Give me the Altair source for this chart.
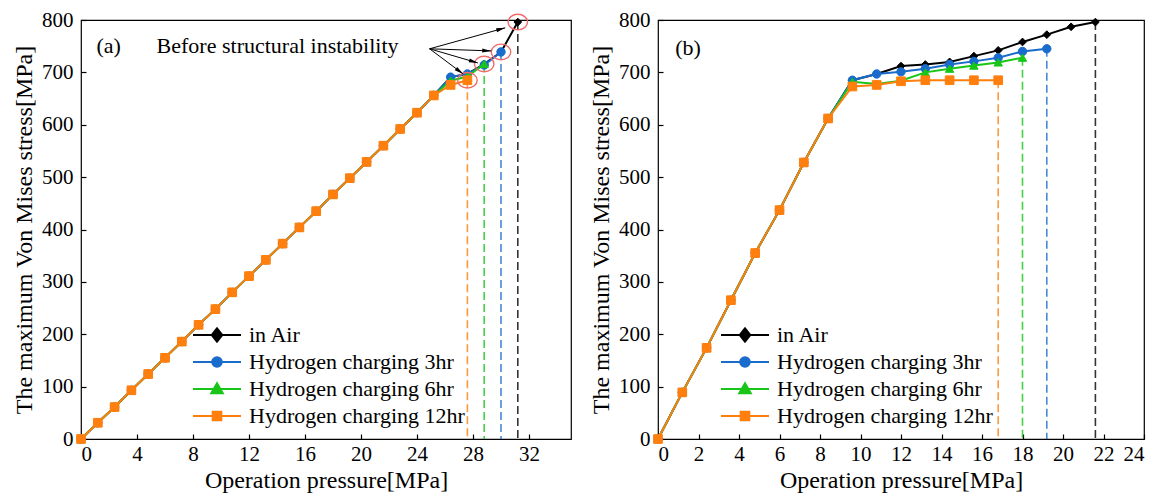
import math
import altair as alt
import pandas as pd

FONT = "Liberation Serif"

SERIES = ["in Air", "Hydrogen charging 3hr", "Hydrogen charging 6hr", "Hydrogen charging 12hr"]
COLORS = ["#000000", "#1a6ccc", "#17c617", "#ff7f0e"]
MARKERS = ["diamond", "circle", "triangle-up", "square"]
MARKER_SIZES = [60, 70, 70, 75]
LEGEND_PATHS = [
    "M-2,0L2,0M0,-0.56L0.44,0L0,0.56L-0.44,0Z",
    "M-2,0L2,0M-0.4,0A0.4,0.4,0,1,0,0.4,0A0.4,0.4,0,1,0,-0.4,0Z",
    "M-2,0L2,0M0,-0.48L0.48,0.36L-0.48,0.36Z",
    "M-2,0L2,0M-0.36,-0.36L0.36,-0.36L0.36,0.36L-0.36,0.36Z",
]
ELLIPSE = "M-1,0A1,0.8,0,1,1,1,0A1,0.8,0,1,1,-1,0Z"
ARROWHEAD = "M0,0L0.45,2L-0.45,2Z"

# ---------------- panel (a) data ----------------
a_lin_p = [0, 1.2, 2.4, 3.6, 4.8, 6.0, 7.2, 8.4, 9.6, 10.8, 12.0, 13.2, 14.4, 15.6,
           16.8, 18.0, 19.2, 20.4, 21.6, 22.8, 24.0, 25.2]
a_lin_s = [0, 31, 61, 93, 124, 155, 186, 218, 248, 280, 311, 342, 373, 404,
           435, 467, 498, 529, 560, 592, 623, 656]
a_air_p = [26.4, 27.6, 28.8, 30.0, 31.2]
a_air_s = [691, 697, 716, 739, 796]
a_h3_p = [26.4, 27.6, 28.8, 30.0]
a_h3_s = [691, 697, 714, 739]
a_h6_p = [26.4, 27.6, 28.8]
a_h6_s = [684, 692, 716]
a_h12_p = [26.4, 27.6]
a_h12_s = [676, 685]

# ---------------- panel (b) data ----------------
b_lin_p = [0, 1.2, 2.4, 3.6, 4.8, 6.0, 7.2, 8.4]
b_lin_s = [0, 89, 174, 265, 355, 437, 528, 612]
b_air_p = [9.6, 10.8, 12.0, 13.2, 14.4, 15.6, 16.8, 18.0, 19.2, 20.4, 21.6]
b_air_s = [685, 697, 712, 715, 720, 731, 742, 758, 772, 787, 796]
b_h3_p = [9.6, 10.8, 12.0, 13.2, 14.4, 15.6, 16.8, 18.0, 19.2]
b_h3_s = [685, 697, 701, 707, 715, 721, 728, 740, 745]
b_h6_p = [9.6, 10.8, 12.0, 13.2, 14.4, 15.6, 16.8, 18.0]
b_h6_s = [682, 678, 684, 700, 707, 713, 719, 728]
b_h12_p = [9.6, 10.8, 12.0, 13.2, 14.4, 15.6, 16.8]
b_h12_s = [673, 676, 683, 685, 685, 685, 685]

# annotation (panel a)
ann_text = "Before structural instability"
ann_text_pos = (5.4, 750)
arrow_start = (24.9, 745)
arrow_tips_p = [30.3, 29.3, 28.35, 27.3]
arrow_tips_s = [785, 741, 718, 697]

Y_TICKS = [0, 100, 200, 300, 400, 500, 600, 700, 800]
A_X_TICKS = [0, 4, 8, 12, 16, 20, 24, 28, 32]
B_X_TICKS = [0, 2, 4, 6, 8, 10, 12, 14, 16, 18, 20, 22, 24]

A_W, A_H = 490, 419
B_W = 486
A_XMAX, B_XMAX = 35, 24


def series_frame(lin_p, lin_s, tails):
    rows = []
    for name, (tp, ts) in zip(SERIES, tails):
        for p, s in zip(lin_p + tp, lin_s + ts):
            rows.append({"series": name, "p": p, "s": s})
    return pd.DataFrame(rows)


def panel(df, xmax, xticks, width, height, legend_x, legend_y, tag, tag_pos, extra=None):
    fill_scale = alt.Scale(domain=SERIES, range=COLORS)
    stroke_scale = alt.Scale(domain=SERIES, range=COLORS)
    shape_scale = alt.Scale(domain=SERIES, range=LEGEND_PATHS)
    xs = alt.Scale(domain=[0, xmax], nice=False)
    ys = alt.Scale(domain=[0, 800], nice=False)
    xaxis = alt.Axis(values=xticks, title="Operation pressure[MPa]", offset=-5, domain=False,
                     tickSize=5, labelPadding=4, titlePadding=4, grid=False)
    yaxis = alt.Axis(values=Y_TICKS, title="The maximum Von Mises stress[MPa]", offset=-5,
                     domain=False, tickSize=5, labelPadding=8, titlePadding=5, grid=False)
    X = alt.X("p:Q", scale=xs, axis=xaxis)
    Y = alt.Y("s:Q", scale=ys, axis=yaxis)
    leg = alt.Legend(title=None, orient="none", legendX=legend_x, legendY=legend_y,
                     symbolSize=576, symbolStrokeWidth=2, labelFont=FONT, labelFontSize=22,
                     labelColor="black", labelOffset=19, rowPadding=3, padding=0,
                     symbolOpacity=1, labelLimit=400)
    FILL = alt.Fill("series:N", scale=fill_scale, legend=leg)
    STROKE = alt.Stroke("series:N", scale=stroke_scale, legend=leg)
    SHAPE = alt.Shape("series:N", scale=shape_scale, legend=leg)

    layers = []
    # legend-only layer (no visible marks)
    leg_df = pd.DataFrame({"series": SERIES, "p": [0] * 4, "s": [0] * 4})
    layers.append(
        alt.Chart(leg_df).transform_filter("datum.p > 1000").mark_point(
            filled=True, strokeWidth=2, opacity=1).encode(
            x=X, y=Y, fill=FILL, stroke=STROKE, shape=SHAPE)
    )
    ends = df.sort_values("p").groupby("series", sort=False).tail(1)
    # dashed verticals
    layers.append(
        alt.Chart(ends).mark_rule(strokeDash=[8, 4], strokeWidth=1.6, opacity=0.8).encode(
            x=X, y=Y, y2=alt.Y2(datum=0), stroke=STROKE)
    )
    for name, shp, sz in zip(SERIES, MARKERS, MARKER_SIZES):
        sub = df[df.series == name]
        base = alt.Chart(sub)
        layers.append(base.mark_line(strokeWidth=2).encode(
            x=X, y=Y, order="p:Q", stroke=STROKE))
        layers.append(base.mark_point(shape=shp, size=sz, filled=True, opacity=1,
                                      strokeWidth=1).encode(
            x=X, y=Y, fill=FILL, stroke=STROKE))
    if extra is not None:
        layers.extend(extra(X, Y))
    tag_df = pd.DataFrame({"p": [tag_pos[0]], "s": [tag_pos[1]], "t": [tag]})
    layers.append(alt.Chart(tag_df).mark_text(font=FONT, fontSize=22, align="left",
                                              baseline="middle", color="black").encode(
        x=X, y=Y, text="t:N"))
    return alt.layer(*layers).properties(width=width, height=height)


def annotations_a(X, Y):
    sx = A_W / A_XMAX
    sy = A_H / 800.0
    line_rows = []
    head_rows = []
    for i, (tp, ts) in enumerate(zip(arrow_tips_p, arrow_tips_s)):
        dx = (tp - arrow_start[0]) * sx
        dy = -(ts - arrow_start[1]) * sy
        ang = math.degrees(math.atan2(dx, -dy)) % 360
        line_rows.append({"id": i, "p": arrow_start[0], "s": arrow_start[1]})
        line_rows.append({"id": i, "p": tp, "s": ts})
        head_rows.append({"p": tp, "s": ts, "ang": ang})
    lines = pd.DataFrame(line_rows)
    heads = pd.DataFrame(head_rows)
    ell = pd.DataFrame({"p": [a_h12_p[-1], a_h6_p[-1], a_h3_p[-1], a_air_p[-1]],
                        "s": [a_h12_s[-1], a_h6_s[-1], a_h3_s[-1], a_air_s[-1]]})
    txt = pd.DataFrame({"p": [ann_text_pos[0]], "s": [ann_text_pos[1]], "t": [ann_text]})
    return [
        alt.Chart(ell).mark_point(shape=ELLIPSE, size=380, filled=False, color="#f06a6a",
                                  strokeWidth=1.4, opacity=1).encode(x=X, y=Y),
        alt.Chart(lines).mark_line(color="black", strokeWidth=1).encode(
            x=X, y=Y, detail="id:N", order="s:Q"),
        alt.Chart(heads).mark_point(shape=ARROWHEAD, size=81, filled=True, color="black",
                                    opacity=1).encode(x=X, y=Y, angle=alt.Angle("ang:Q", scale=None)),
        alt.Chart(txt).mark_text(font=FONT, fontSize=22, align="left", baseline="middle",
                                 color="black").encode(x=X, y=Y, text="t:N"),
    ]


df_a = series_frame(a_lin_p, a_lin_s,
                    [(a_air_p, a_air_s), (a_h3_p, a_h3_s), (a_h6_p, a_h6_s), (a_h12_p, a_h12_s)])
df_b = series_frame(b_lin_p, b_lin_s,
                    [(b_air_p, b_air_s), (b_h3_p, b_h3_s), (b_h6_p, b_h6_s), (b_h12_p, b_h12_s)])

pa = panel(df_a, A_XMAX, A_X_TICKS, A_W, A_H, 123, 302, "(a)", (1.1, 750), extra=annotations_a)
pb = panel(df_b, B_XMAX, B_X_TICKS, B_W, A_H, 74, 302, "(b)", (0.85, 747))

chart = alt.hconcat(pa, pb, spacing=16).resolve_scale(
    fill="independent", stroke="independent", shape="independent"
).resolve_legend(
    fill="independent", stroke="independent", shape="independent"
).properties(
    padding={"left": 11, "top": 8, "right": 5, "bottom": 0},
    background="white"
).configure_view(
    stroke="black", strokeWidth=1.2
).configure_axis(
    labelFont=FONT, labelFontSize=21, labelColor="black", titleFont=FONT, titleFontSize=24,
    titleFontWeight="normal", titleColor="black", tickColor="black", tickWidth=1.2
)

chart.save("out.html", embed_options={"renderer": "svg", "actions": False})
